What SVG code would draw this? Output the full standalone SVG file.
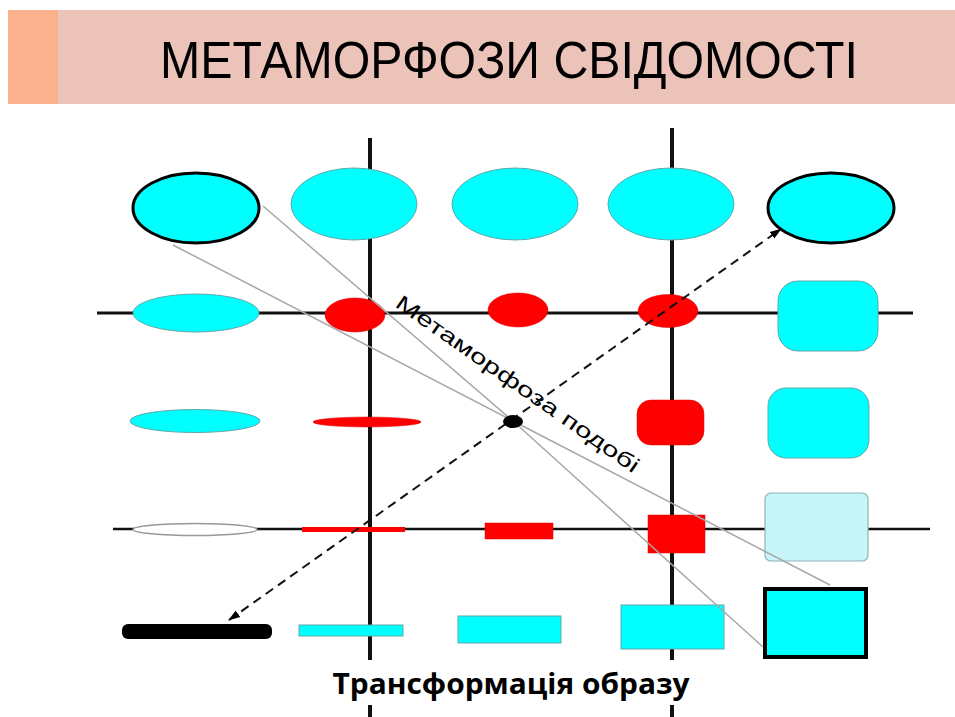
<svg xmlns="http://www.w3.org/2000/svg" width="955" height="717" viewBox="0 0 955 717">
<style>
.cy{fill:#00FFFF;stroke:#5FA8A8;stroke-width:1}
.cyb{fill:#00FFFF;stroke:#000;stroke-width:3}
.rd{fill:#FF0000;stroke:#D00;stroke-width:0.5}
.ax{stroke:#111;fill:none}
.gl{stroke:#A8A8A8;stroke-width:1.5;fill:none}
.title{font-family:"Liberation Sans","Open Sans",sans-serif;font-size:52px;fill:#000}
.lbl{font-family:"Open Sans","Liberation Sans",sans-serif;font-size:29px;font-weight:bold;fill:#000}
.diag{font-family:"Liberation Sans",Arial,sans-serif;font-size:21px;fill:#000}
</style>
<defs>
<marker id="ah" viewBox="0 0 12 10" refX="11" refY="5" markerWidth="12" markerHeight="10" orient="auto-start-reverse" markerUnits="userSpaceOnUse">
<path d="M0,1 L12,5 L0,9 Z" fill="#000"/>
</marker>
</defs>
<rect width="955" height="717" fill="#fff"/>
<g id="header">
<rect x="8" y="10" width="947" height="94" fill="#EBC3B9"/>
<rect x="8" y="10" width="50" height="94" fill="#FBB08E"/>
<text class="title" x="509" y="78" text-anchor="middle" textLength="698" lengthAdjust="spacingAndGlyphs">МЕТАМОРФОЗИ СВІДОМОСТІ</text>
</g>
<g id="axes">
<line class="ax" x1="370" y1="138" x2="370" y2="660" stroke-width="4"/>
<line class="ax" x1="370" y1="705" x2="370" y2="717" stroke-width="4"/>
<line class="ax" x1="672" y1="128" x2="672" y2="660" stroke-width="4"/>
<line class="ax" x1="672" y1="705" x2="672" y2="717" stroke-width="4"/>
<line class="ax" x1="97" y1="313" x2="913" y2="313" stroke-width="3"/>
<line class="ax" x1="113" y1="529" x2="930" y2="529" stroke-width="2.5"/>
</g>
<g id="row1">
<ellipse id="r1c1" class="cyb" cx="196" cy="208" rx="63" ry="35"/>
<ellipse id="r1c2" class="cy" cx="354" cy="204" rx="63" ry="36"/>
<ellipse id="r1c3" class="cy" cx="515" cy="204" rx="63" ry="36"/>
<ellipse id="r1c4" class="cy" cx="671" cy="204" rx="63" ry="36"/>
<ellipse id="r1c5" class="cyb" cx="831" cy="208" rx="63" ry="35"/>
</g>
<g id="row2">
<ellipse id="r2c1" class="cy" cx="196" cy="313" rx="63" ry="19"/>
<ellipse id="r2c2" class="rd" cx="355" cy="315" rx="30" ry="17"/>
<ellipse id="r2c3" class="rd" cx="518" cy="310" rx="30" ry="17"/>
<ellipse id="r2c4" class="rd" cx="668" cy="311" rx="30" ry="16.5"/>
<rect id="r2c5" class="cy" x="778" y="281" width="100" height="70" rx="20"/>
</g>
<g id="row3">
<ellipse id="r3c1" class="cy" cx="195" cy="421" rx="65" ry="11.5"/>
<ellipse id="r3c2" class="rd" cx="367" cy="422" rx="54" ry="5"/>
<rect id="r3c4" class="rd" x="637" y="400" width="67" height="45" rx="14"/>
<rect id="r3c5" class="cy" x="768" y="388" width="101" height="70" rx="18"/>
</g>
<g id="row4">
<ellipse id="r4c1" cx="195" cy="529.5" rx="62" ry="6" fill="#fff" stroke="#999" stroke-width="1.5"/>
<rect id="r4c2" x="302" y="527" width="103" height="5" fill="#FF0000"/>
<rect id="r4c3" class="rd" x="485" y="523" width="68" height="16"/>
<rect id="r4c4" class="rd" x="648" y="515" width="57" height="38"/>
<rect id="r4c5" x="765" y="493" width="103" height="68" rx="6" fill="#C8F6F8" stroke="#8FB4B8" stroke-width="1.2"/>
</g>
<g id="row5">
<rect id="r5c1" x="122" y="624" width="150" height="15" rx="6" fill="#000"/>
<rect id="r5c2" class="cy" x="299" y="625" width="104" height="11"/>
<rect id="r5c3" class="cy" x="458" y="616" width="103" height="27"/>
<rect id="r5c4" class="cy" x="621" y="605" width="103" height="44"/>
<rect id="r5c5" x="765" y="589" width="101" height="68" fill="#00FFFF" stroke="#000" stroke-width="4"/>
</g>
<g id="connectors">
<polyline class="gl" points="263,206 513,421 763,647"/>
<polyline class="gl" points="173,245 513,421 830,585"/>
<line x1="229" y1="620" x2="781" y2="229" stroke="#111" stroke-width="2" stroke-dasharray="9,6" marker-start="url(#ah)" marker-end="url(#ah)"/>
</g>
<g id="focus">
<ellipse cx="513" cy="421.5" rx="10" ry="6.5" fill="#000"/>
</g>
<g id="labels">
<text class="diag" transform="translate(394,306) rotate(35)" textLength="292" lengthAdjust="spacingAndGlyphs">Метаморфоза подобі</text>
<text class="lbl" x="511" y="694" text-anchor="middle" textLength="357" lengthAdjust="spacingAndGlyphs">Трансформація образу</text>
</g>
</svg>
